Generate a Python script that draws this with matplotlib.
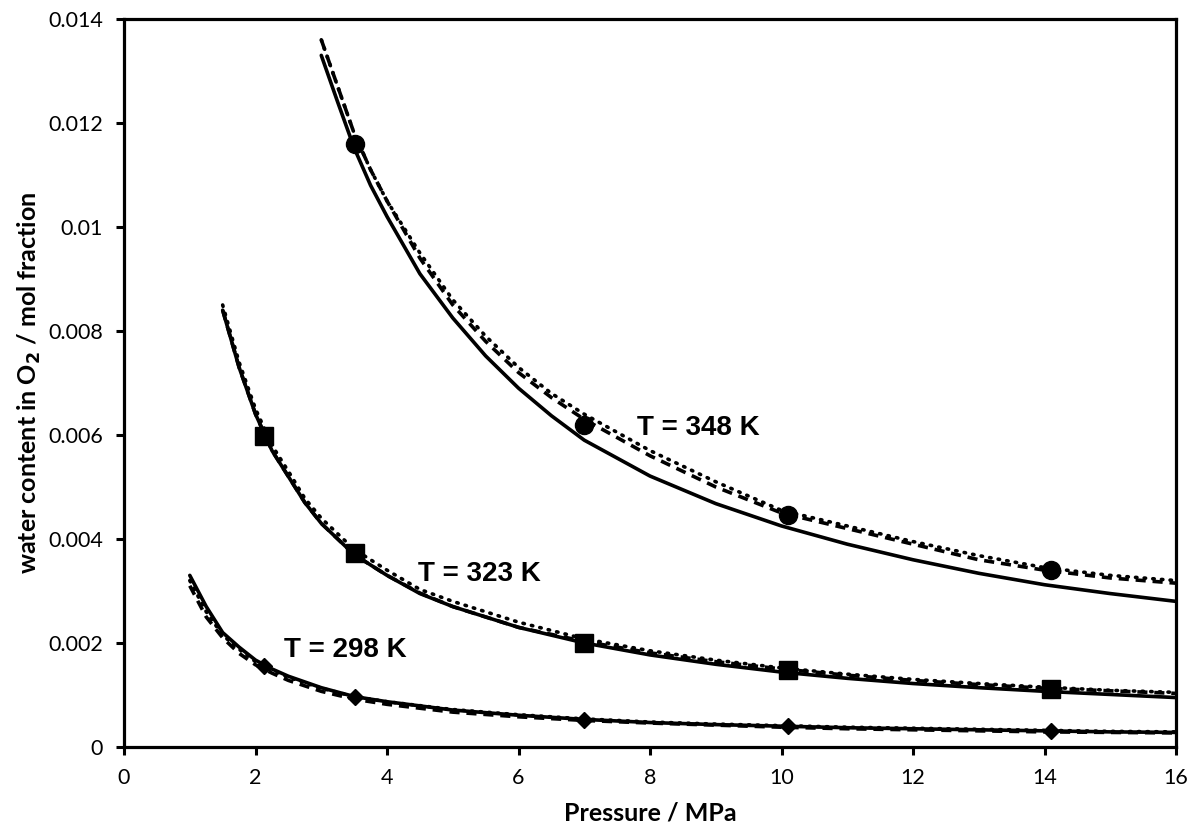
import matplotlib
matplotlib.use("Agg")
import matplotlib.pyplot as plt

# -- Data -----------------------------------------------------------------
# measured points (MPa, mol fraction)
p_exp = [2.13, 3.52, 7.0, 10.1, 14.1]
y298_exp = [0.00156, 0.00096, 0.00052, 0.00040, 0.00030]
y323_exp = [0.00598, 0.00373, 0.00200, 0.00148, 0.00111]
p348_exp = [3.52, 7.0, 10.1, 14.1]
y348_exp = [0.0116, 0.0062, 0.00446, 0.0034]

# model curves
p298 = [1.0, 1.25, 1.5, 1.75, 2.0, 2.25, 2.5, 3.0, 3.5, 4.0, 5.0, 6.0, 7.0,
        8.0, 9.0, 10.0, 11.0, 12.0, 13.0, 14.0, 15.0, 16.0]
y298_solid = [0.0033, 0.0027, 0.0022, 0.00192, 0.00167, 0.00150, 0.00136,
              0.00114, 0.00097, 0.00087, 0.00071, 0.00061, 0.00053, 0.00047,
              0.00043, 0.00040, 0.00037, 0.00035, 0.00033, 0.00031, 0.00029,
              0.00028]
y298_dash = [0.0031, 0.0025, 0.0021, 0.00180, 0.00158, 0.00142, 0.00128,
             0.00107, 0.00092, 0.00082, 0.00067, 0.00058, 0.00051, 0.00046,
             0.00042, 0.00038, 0.00035, 0.00033, 0.00031, 0.00029, 0.00028,
             0.00027]
y298_dot = [0.0032, 0.0026, 0.00215, 0.00188, 0.00164, 0.00148, 0.00134,
            0.00113, 0.00097, 0.00087, 0.00072, 0.00062, 0.00054, 0.00048,
            0.00044, 0.00041, 0.00038, 0.00036, 0.00034, 0.00032, 0.00030,
            0.00029]

p323 = [1.5, 1.75, 2.0, 2.25, 2.5, 2.75, 3.0, 3.5, 4.0, 4.5, 5.0, 6.0, 7.0,
        8.0, 9.0, 10.0, 11.0, 12.0, 13.0, 14.0, 15.0, 16.0]
y323_solid = [0.0084, 0.0073, 0.0064, 0.0057, 0.0052, 0.00470, 0.0043,
              0.0037, 0.0033, 0.00295, 0.0027, 0.0023, 0.0020, 0.00177,
              0.00159, 0.00144, 0.00132, 0.00122, 0.00114, 0.00107, 0.00101,
              0.00095]
y323_dash = [0.0084, 0.0073, 0.0064, 0.0057, 0.0052, 0.00470, 0.0043,
             0.0037, 0.0033, 0.00296, 0.0027, 0.0023, 0.00203, 0.00181,
             0.00164, 0.00150, 0.00138, 0.00128, 0.00120, 0.00113, 0.00108,
             0.00103]
y323_dot = [0.0085, 0.0074, 0.0065, 0.0058, 0.0053, 0.00478, 0.0044,
            0.0038, 0.0034, 0.00303, 0.0028, 0.0024, 0.00208, 0.00185,
            0.00167, 0.00152, 0.00140, 0.00130, 0.00122, 0.00115, 0.00109,
            0.00105]

p348 = [3.0, 3.25, 3.5, 3.75, 4.0, 4.5, 5.0, 5.5, 6.0, 6.5, 7.0, 8.0, 9.0,
        10.0, 11.0, 12.0, 13.0, 14.0, 15.0, 16.0]
y348_solid = [0.0133, 0.0124, 0.01152, 0.0108, 0.0102, 0.0091, 0.00825,
              0.00752, 0.0069, 0.00637, 0.0059, 0.00521, 0.00468, 0.00425,
              0.0039, 0.0036, 0.00334, 0.00312, 0.00295, 0.0028]
y348_dash = [0.0136, 0.0127, 0.0118, 0.0111, 0.0105, 0.0094, 0.0085,
             0.0078, 0.0072, 0.00672, 0.0063, 0.0056, 0.0050, 0.0045,
             0.0042, 0.0039, 0.0036, 0.0034, 0.00325, 0.00315]
y348_dot = [0.0136, 0.0127, 0.0118, 0.0111, 0.0105, 0.0095, 0.0086,
            0.0079, 0.0073, 0.0068, 0.0064, 0.0057, 0.0051, 0.00455,
            0.00425, 0.00395, 0.00368, 0.00345, 0.0033, 0.0032]

x_ticks = [0, 2, 4, 6, 8, 10, 12, 14, 16]
y_ticks = [0, 0.002, 0.004, 0.006, 0.008, 0.010, 0.012, 0.014]
y_tick_labels = ["0", "0.002", "0.004", "0.006", "0.008", "0.01", "0.012",
                 "0.014"]

labels = ["T = 298 K", "T = 323 K", "T = 348 K"]
label_pos = [(3.36, 0.00187), (5.40, 0.00333), (8.73, 0.00613)]

# -- Figure ----------------------------------------------------------------
fig = plt.figure(figsize=(11.95, 8.36), dpi=100)
ax = fig.add_axes([0.1038, 0.1065, 0.8803, 0.8708])

lw = 2.6
dash = (0, (2.8, 1.9))
dot = (0, (0.4, 2.0))

for p, ys, yd, yt in [(p298, y298_solid, y298_dash, y298_dot),
                      (p323, y323_solid, y323_dash, y323_dot),
                      (p348, y348_solid, y348_dash, y348_dot)]:
    ax.plot(p, yt, color="black", lw=lw, linestyle=dot, dash_capstyle="round")
    ax.plot(p, yd, color="black", lw=lw, linestyle=dash)
    ax.plot(p, ys, color="black", lw=lw, solid_capstyle="round")

ax.plot(p_exp, y298_exp, "D", color="black", ms=8.6, linestyle="none")
ax.plot(p_exp, y323_exp, "s", color="black", ms=13.5, linestyle="none")
ax.plot(p348_exp, y348_exp, "o", color="black", ms=13, linestyle="none")

for txt, (tx, ty) in zip(labels, label_pos):
    ax.text(tx, ty, txt, ha="center", va="center", fontsize=20,
            fontweight="bold", family="Liberation Sans")

ax.set_xlim(0, 16)
ax.set_ylim(0, 0.014)
ax.set_xticks(x_ticks)
ax.set_xticklabels([str(v) for v in x_ticks])
ax.set_yticks(y_ticks)
ax.set_yticklabels(y_tick_labels)

for sp in ax.spines.values():
    sp.set_linewidth(2.3)
ax.tick_params(direction="out", length=6, width=2.2, pad=9,
               labelsize=15.5)
for lab in ax.get_xticklabels() + ax.get_yticklabels():
    lab.set_family("Lato")

ax.set_xlabel("Pressure / MPa", fontsize=18, fontweight="bold",
              family="Lato", labelpad=10)
ax.set_ylabel("water content in O$_\\mathbf{2}$ / mol fraction", fontsize=18,
              fontweight="bold", family="Lato", labelpad=4)

fig.savefig("out.png", dpi=100)
plt.close(fig)
